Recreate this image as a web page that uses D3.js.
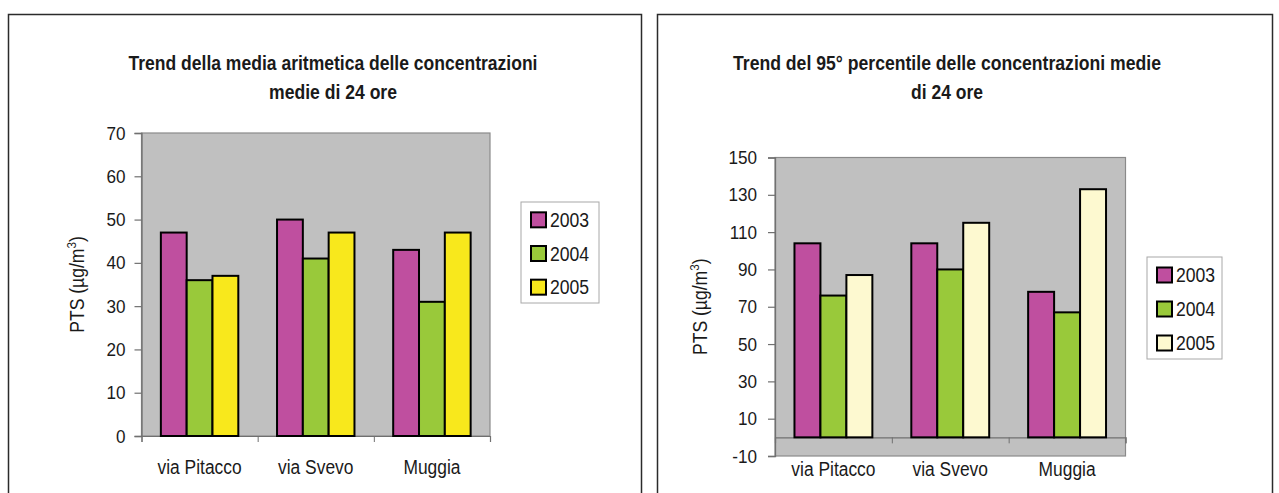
<!DOCTYPE html>
<html>
<head>
<meta charset="utf-8">
<script src="https://cdn.jsdelivr.net/npm/d3@7"></script>
<style>
  body { margin: 0; background: #fff; }
  svg { display: block; }
  text { font-family: "Liberation Sans", Arial, sans-serif; fill: #1a1a1a; }
</style>
</head>
<body>
<svg id="chart" width="1279" height="493"></svg>
<script>
// Monitoring stations and years
const categories = ["via Pitacco", "via Svevo", "Muggia"];
const years = ["2003", "2004", "2005"];

// Arithmetic mean of 24-hour average concentrations (µg/m³)
const mean2003 = [47, 50, 43];
const mean2004 = [36, 41, 31];
const mean2005 = [37, 47, 47];
const meanTicks = [0, 10, 20, 30, 40, 50, 60, 70];

// 95th percentile of 24-hour average concentrations (µg/m³)
const p95_2003 = [104, 104, 78];
const p95_2004 = [76, 90, 67];
const p95_2005 = [87, 115, 133];
const p95Ticks = [-10, 10, 30, 50, 70, 90, 110, 130, 150];

const svg = d3.select("#chart");
const FONT = "'Liberation Sans', Arial, sans-serif";

// Narrow the text horizontally to a fraction of its natural width
function squeeze(sel, factor) {
  sel.each(function () {
    const w = this.getComputedTextLength();
    d3.select(this).attr("textLength", w * factor).attr("lengthAdjust", "spacingAndGlyphs");
  });
}

function drawChart(cfg) {
  const g = svg.append("g");

  // outer frame of the panel
  g.append("rect")
    .attr("x", cfg.frame[0] + 0.5).attr("y", cfg.frame[1] + 0.5)
    .attr("width", cfg.frame[2]).attr("height", cfg.frame[3])
    .attr("fill", "#fff").attr("stroke", "#2b2b2b").attr("stroke-width", 1.5);

  // title, two centred lines
  cfg.titleLines.forEach((line, i) => {
    g.append("text")
      .attr("x", cfg.titleX).attr("y", 63 + i * 29).attr("dy", "0.35em")
      .attr("text-anchor", "middle")
      .attr("font-size", 20.5).attr("font-weight", "bold")
      .attr("textLength", cfg.titleWidths[i]).attr("lengthAdjust", "spacingAndGlyphs")
      .text(line);
  });

  const [left, top, right, bottom] = cfg.plot;
  const y = d3.scaleLinear().domain(cfg.domain).range([bottom, top]);
  const x = d3.scaleBand().domain(categories).range([left, right]).paddingInner(0).paddingOuter(0);
  const xs = d3.scaleBand().domain(years).range([0, x.bandwidth()]).paddingInner(0).paddingOuter(0.75);

  // plot area
  g.append("rect")
    .attr("x", left).attr("y", top)
    .attr("width", right - left).attr("height", bottom - top)
    .attr("fill", "#c0c0c0").attr("stroke", "#8a8a8a").attr("stroke-width", 1.2);

  // y axis (plain hyphen for negative values)
  const yAxis = g.append("g")
    .attr("transform", `translate(${left},0)`)
    .call(d3.axisLeft(y).tickValues(cfg.ticks).tickSize(7).tickPadding(cfg.tickPad).tickFormat(d => String(d)));
  yAxis.select(".domain").attr("stroke", "#707070").attr("stroke-width", 1.3);
  yAxis.selectAll(".tick line").attr("stroke", "#707070").attr("stroke-width", 1.2);
  yAxis.selectAll(".tick text").attr("font-size", 19).attr("fill", "#1a1a1a").attr("font-family", FONT);
  squeeze(yAxis.selectAll(".tick text"), 0.9);

  // category axis line at zero with boundary ticks
  const xb = d3.scaleLinear().domain([0, categories.length]).range([left, right]);
  const xAxis = g.append("g")
    .attr("transform", `translate(0,${y(0)})`)
    .call(d3.axisBottom(xb).tickValues(d3.range(categories.length + 1)).tickSize(6).tickFormat(""));
  xAxis.select(".domain").attr("stroke", "#707070").attr("stroke-width", 1.2);
  xAxis.selectAll(".tick line").attr("stroke", "#707070").attr("stroke-width", 1);

  // category labels
  const labAxis = g.append("g")
    .attr("transform", `translate(0,${cfg.labelY})`)
    .call(d3.axisBottom(x).tickSize(0).tickPadding(0));
  labAxis.select(".domain").remove();
  labAxis.selectAll(".tick text").attr("font-size", 20).attr("dy", "0.35em")
    .attr("fill", "#1a1a1a").attr("font-family", FONT);
  squeeze(labAxis.selectAll(".tick text"), 0.87);

  // y axis title
  const yt = g.append("text")
    .attr("transform", `translate(${cfg.yTitleX},${(top + bottom) / 2}) rotate(-90)`)
    .attr("text-anchor", "middle").attr("font-size", 19.5);
  yt.append("tspan").text("PTS (µg/m");
  yt.append("tspan").attr("font-size", 13).attr("dy", -8).text("3");
  yt.append("tspan").attr("dy", 8).text(")");
  squeeze(yt, 0.9);

  // bars
  const series = years.map((yr, i) => ({ year: yr, values: cfg.series[i], color: cfg.colors[i] }));
  series.forEach(s => {
    g.append("g").selectAll("rect")
      .data(s.values)
      .join("rect")
      .attr("x", (d, i) => x(categories[i]) + xs(s.year))
      .attr("y", d => y(Math.max(0, d)))
      .attr("width", xs.bandwidth())
      .attr("height", d => Math.abs(y(d) - y(0)))
      .attr("fill", s.color)
      .attr("stroke", "#000").attr("stroke-width", 2);
  });

  // legend
  const [lx, ly, lw, lh] = cfg.legend;
  g.append("rect")
    .attr("x", lx).attr("y", ly).attr("width", lw).attr("height", lh)
    .attr("fill", "#fff").attr("stroke", "#a8a8a8").attr("stroke-width", 1);
  const step = lh / 3;
  series.forEach((s, i) => {
    const cy = ly + step * (i + 0.5) + 1;
    g.append("rect")
      .attr("x", lx + 10).attr("y", cy - 7.5).attr("width", 15).attr("height", 15)
      .attr("fill", s.color).attr("stroke", "#000").attr("stroke-width", 2);
    const t = g.append("text")
      .attr("x", lx + 29).attr("y", cy).attr("dy", "0.36em")
      .attr("font-size", 20).text(s.year);
    squeeze(t, 0.88);
  });
}

drawChart({
  frame: [8, 14, 633, 500],
  titleX: 333,
  titleLines: ["Trend della media aritmetica delle concentrazioni", "medie di 24 ore"],
  titleWidths: [409, 128],
  plot: [141.5, 133, 490, 436],
  domain: [0, 70],
  ticks: meanTicks,
  tickPad: 9,
  labelY: 467,
  yTitleX: 84,
  series: [mean2003, mean2004, mean2005],
  colors: ["#bf4f9f", "#99c93a", "#f8e81c"],
  legend: [521, 202, 78, 101]
});

drawChart({
  frame: [657, 14, 615, 500],
  titleX: 947,
  titleLines: ["Trend del 95° percentile delle concentrazioni medie", "di 24 ore"],
  titleWidths: [428, 72],
  plot: [775, 157.5, 1125.5, 456],
  domain: [-10, 150],
  ticks: p95Ticks,
  tickPad: 11,
  labelY: 469,
  yTitleX: 707,
  series: [p95_2003, p95_2004, p95_2005],
  colors: ["#bf4f9f", "#99c93a", "#fdf9d0"],
  legend: [1147, 257, 75, 102]
});
</script>
</body>
</html>
